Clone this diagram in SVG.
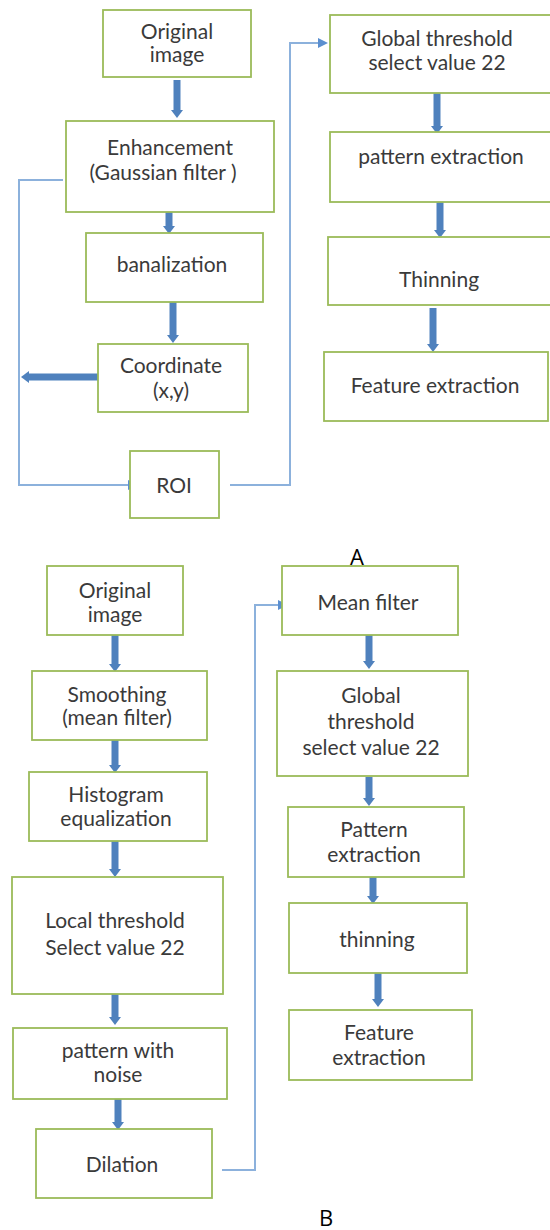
<svg xmlns="http://www.w3.org/2000/svg" width="550" height="1230" viewBox="0 0 550 1230">
<style>
.box{fill:#ffffff;stroke:#9bbb59;stroke-width:1.8}
.t{font-family:Lato,"Open Sans",sans-serif;font-size:21px;fill:#3a3a3a;text-anchor:middle}
.lbl{font-family:"Open Sans",Lato,sans-serif;font-size:22px;fill:#000;text-anchor:middle}
.thick{stroke:#4f81bd;stroke-width:7;fill:none;marker-end:url(#hk)}
.thin{stroke:#8cb1dc;stroke-width:2;fill:none}
.thinA{stroke:#8cb1dc;stroke-width:2;fill:none;marker-end:url(#hn)}
</style>
<defs>
<marker id="hk" markerUnits="userSpaceOnUse" markerWidth="8" markerHeight="12" refX="0" refY="6" orient="auto">
<path d="M0,0 L8,6 L0,12 z" fill="#4f81bd"/>
</marker>
<marker id="hn" markerUnits="userSpaceOnUse" markerWidth="10" markerHeight="10" refX="0" refY="5" orient="auto">
<path d="M0,0 L10,5 L0,10 z" fill="#5b8fd0"/>
</marker>
</defs>
<rect width="550" height="1230" fill="#ffffff"/>

<g id="connectors">
<!-- A -->
<line class="thick" x1="177" y1="80" x2="177" y2="110"/>
<line class="thick" x1="169" y1="198" x2="169" y2="226"/>
<line class="thick" x1="173" y1="302" x2="173" y2="335"/>
<line class="thick" x1="108" y1="377" x2="29" y2="377"/>
<polyline class="thinA" points="63,180 19,180 19,485 128,485"/>
<polyline class="thinA" points="230,485 290,485 290,43 318,43"/>
<line class="thick" x1="437" y1="93" x2="437" y2="126"/>
<line class="thick" x1="440" y1="202" x2="440" y2="230"/>
<line class="thick" x1="433" y1="308" x2="433" y2="344"/>
<!-- B -->
<line class="thick" x1="115" y1="635" x2="115" y2="664"/>
<line class="thick" x1="115" y1="740" x2="115" y2="765"/>
<line class="thick" x1="115" y1="841" x2="115" y2="869"/>
<line class="thick" x1="115" y1="994" x2="115" y2="1017"/>
<line class="thick" x1="118" y1="1099" x2="118" y2="1122"/>
<polyline class="thinA" points="222,1170 255,1170 255,605 278,605"/>
<line class="thick" x1="369" y1="635" x2="369" y2="661"/>
<line class="thick" x1="369" y1="777" x2="369" y2="798"/>
<line class="thick" x1="373" y1="877" x2="373" y2="896"/>
<line class="thick" x1="378" y1="973" x2="378" y2="999"/>
</g>

<g id="orig-a"><rect class="box" x="103" y="10" width="148" height="67"/>
<text class="t" x="177" y="39">Original</text><text class="t" x="177" y="62">image</text></g>
<g id="enhancement"><rect class="box" x="66" y="121" width="208" height="91"/>
<text class="t" x="170" y="155">Enhancement</text><text class="t" x="163" y="180">(Gaussian filter )</text></g>
<g id="banalization"><rect class="box" x="86" y="233" width="177" height="69"/>
<text class="t" x="172" y="272">banalization</text></g>
<g id="coordinate"><rect class="box" x="98" y="344" width="150" height="68"/>
<text class="t" x="171" y="373">Coordinate</text><text class="t" x="171" y="398">(x,y)</text></g>
<g id="roi"><rect class="box" x="130" y="451" width="89" height="67"/>
<text class="t" x="174" y="493">ROI</text></g>
<g id="global-a"><rect class="box" x="330" y="15" width="222" height="78"/>
<text class="t" x="437" y="46">Global threshold</text><text class="t" x="437" y="70">select value 22</text></g>
<g id="pattern-a"><rect class="box" x="330" y="132" width="222" height="70"/>
<text class="t" x="441" y="164">pattern extraction</text></g>
<g id="thinning-a"><rect class="box" x="328" y="237" width="224" height="68"/>
<text class="t" x="439" y="287">Thinning</text></g>
<g id="feature-a"><rect class="box" x="324" y="352" width="224" height="69"/>
<text class="t" x="435" y="393">Feature extraction</text></g>
<text class="lbl" x="357" y="565">A</text>

<g id="orig-b"><rect class="box" x="47" y="566" width="136" height="69"/>
<text class="t" x="115" y="598">Original</text><text class="t" x="115" y="622">image</text></g>
<g id="smoothing"><rect class="box" x="32" y="671" width="175" height="69"/>
<text class="t" x="117" y="702">Smoothing</text><text class="t" x="117" y="725">(mean filter)</text></g>
<g id="histogram"><rect class="box" x="29" y="772" width="178" height="69"/>
<text class="t" x="116" y="802">Histogram</text><text class="t" x="116" y="826">equalization</text></g>
<g id="local"><rect class="box" x="12" y="877" width="211" height="117"/>
<text class="t" x="115" y="928">Local threshold</text><text class="t" x="115" y="955">Select value 22</text></g>
<g id="noise"><rect class="box" x="13" y="1028" width="214" height="71"/>
<text class="t" x="118" y="1058">pattern with</text><text class="t" x="118" y="1082">noise</text></g>
<g id="dilation"><rect class="box" x="36" y="1129" width="176" height="69"/>
<text class="t" x="122" y="1172">Dilation</text></g>
<g id="mean"><rect class="box" x="282" y="566" width="176" height="69"/>
<text class="t" x="368" y="610">Mean filter</text></g>
<g id="global-b"><rect class="box" x="277" y="671" width="191" height="105"/>
<text class="t" x="371" y="703">Global</text><text class="t" x="371" y="729">threshold</text><text class="t" x="371" y="755">select value 22</text></g>
<g id="pattern-b"><rect class="box" x="288" y="807" width="176" height="70"/>
<text class="t" x="374" y="837">Pattern</text><text class="t" x="374" y="862">extraction</text></g>
<g id="thinning-b"><rect class="box" x="289" y="903" width="178" height="70"/>
<text class="t" x="377" y="947">thinning</text></g>
<g id="feature-b"><rect class="box" x="289" y="1010" width="183" height="70"/>
<text class="t" x="379" y="1040">Feature</text><text class="t" x="379" y="1065">extraction</text></g>
<text class="lbl" x="326" y="1226">B</text>
</svg>
